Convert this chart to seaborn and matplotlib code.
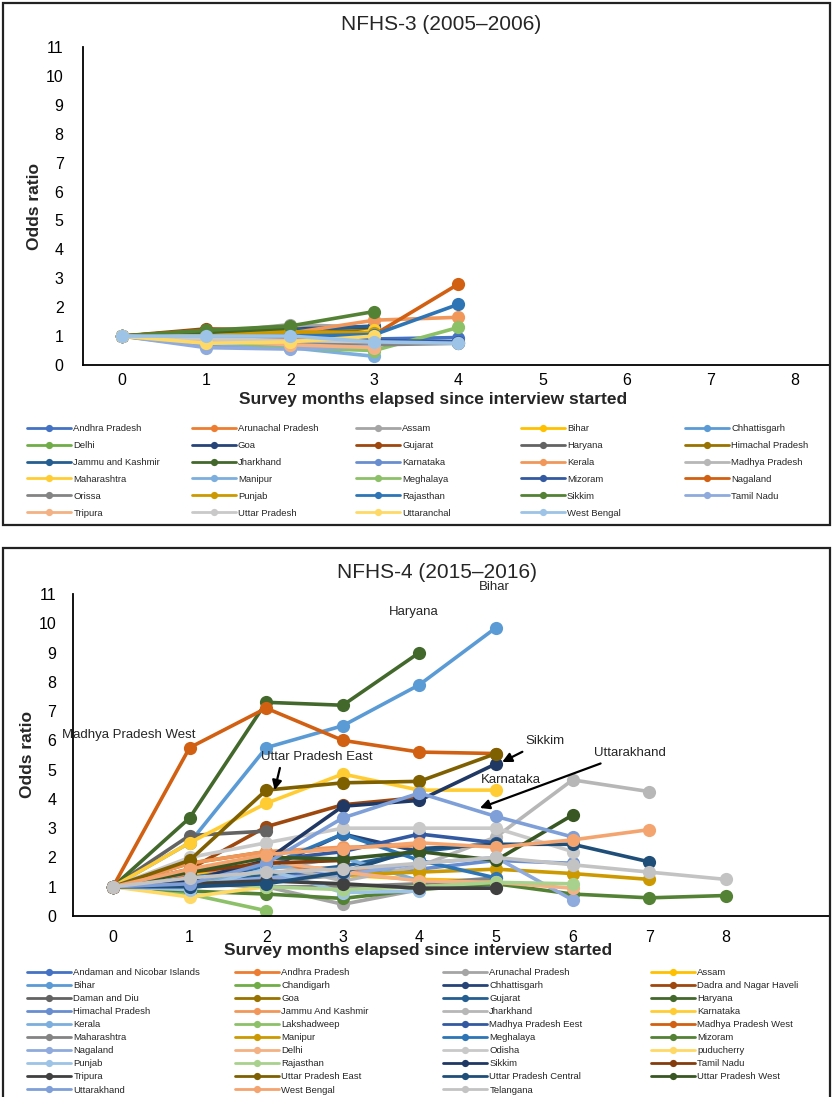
import numpy as np
import pandas as pd
import matplotlib
matplotlib.use("Agg")
import matplotlib.pyplot as plt
import seaborn as sns
from matplotlib.lines import Line2D
from matplotlib.patches import Rectangle

# ---------------- data ----------------
y_ticks = list(range(0, 12))
x_ticks = list(range(0, 9))

nfhs3_states = ["Andhra Pradesh", "Arunachal Pradesh", "Assam", "Bihar", "Chhattisgarh",
                "Delhi", "Goa", "Gujarat", "Haryana", "Himachal Pradesh",
                "Jammu and Kashmir", "Jharkhand", "Karnataka", "Kerala", "Madhya Pradesh",
                "Maharashtra", "Manipur", "Meghalaya", "Mizoram", "Nagaland",
                "Orissa", "Punjab", "Rajasthan", "Sikkim", "Tamil Nadu",
                "Tripura", "Uttar Pradesh", "Uttaranchal", "West Bengal"]
nfhs3_colors = ["#4472C4", "#ED7D31", "#A5A5A5", "#FFC000", "#5B9BD5",
                "#70AD47", "#264478", "#9E480E", "#636363", "#997300",
                "#255E91", "#43682B", "#698ED0", "#F1975A", "#B7B7B7",
                "#FFCD33", "#7CAFDD", "#8CC168", "#335AA1", "#D26012",
                "#848484", "#CC9A00", "#2E75B6", "#548235", "#8FAADC",
                "#F4B183", "#C9C9C9", "#FFD966", "#9DC3E6"]
nfhs3_values = [
    [1, 0.85, 0.80, 0.90, 0.95],
    [1, 0.90, 0.80, 0.70],
    [1, 1.10, 1.40, 1.30],
    [1, 0.95, 1.10, 1.10],
    [1, 0.70, 0.65, 0.80],
    [1, 0.80, 0.70, 0.55],
    [1, 1.20, 1.25, 1.30],
    [1, 1.25, 1.20],
    [1, 1.10, 1.30, 0.80, 0.75],
    [1, 1.20, 1.10, 1.20],
    [1, 1.00, 1.20, 1.35],
    [1, 1.10, 1.25],
    [1, 0.65, 0.60, 0.55],
    [1, 1.00, 1.10, 1.55, 1.65],
    [1, 0.90, 0.85, 0.75],
    [1, 0.80, 0.75, 1.20],
    [1, 0.75, 0.60, 0.30],
    [1, 0.85, 0.60, 0.50, 1.30],
    [1, 0.90, 1.00, 0.85, 0.80],
    [1, 0.95, 0.90, 1.05, 2.80],
    [1, 0.90, 0.80, 0.70, 0.75],
    [1, 1.00, 1.15, 1.10],
    [1, 0.95, 1.00, 1.05, 2.10],
    [1, 1.20, 1.35, 1.85],
    [1, 0.60, 0.55, 0.65],
    [1, 0.85, 0.70, 0.60],
    [1, 0.90, 0.85, 0.80],
    [1, 0.75, 0.80, 1.00],
    [1, 1.00, 1.00, 0.80, 0.75],
]

nfhs4_states = ["Andaman and Nicobar Islands", "Andhra Pradesh", "Arunachal Pradesh", "Assam",
                "Bihar", "Chandigarh", "Chhattisgarh", "Dadra and Nagar Haveli",
                "Daman and Diu", "Goa", "Gujarat", "Haryana",
                "Himachal Pradesh", "Jammu And Kashmir", "Jharkhand", "Karnataka",
                "Kerala", "Lakshadweep", "Madhya Pradesh Eest", "Madhya Pradesh West",
                "Maharashtra", "Manipur", "Meghalaya", "Mizoram",
                "Nagaland", "Delhi", "Odisha", "puducherry",
                "Punjab", "Rajasthan", "Sikkim", "Tamil Nadu",
                "Tripura", "Uttar Pradesh East", "Uttar Pradesh Central", "Uttar Pradesh West",
                "Uttarakhand", "West Bengal", "Telangana"]
nfhs4_colors = ["#4472C4", "#ED7D31", "#A5A5A5", "#FFC000",
                "#5B9BD5", "#70AD47", "#264478", "#9E480E",
                "#636363", "#997300", "#255E91", "#43682B",
                "#698ED0", "#F1975A", "#B7B7B7", "#FFCD33",
                "#7CAFDD", "#8CC168", "#335AA1", "#D26012",
                "#848484", "#CC9A00", "#2E75B6", "#548235",
                "#8FAADC", "#F4B183", "#C9C9C9", "#FFD966",
                "#9DC3E6", "#A9D18E", "#203864", "#843C0C",
                "#404040", "#7F6000", "#1F4E79", "#385723",
                "#7F9FD8", "#F4A46F", "#C3C3C3"]
nfhs4_values = [
    [1, 1.20, 1.50, 1.40],
    [1, 1.40, 1.70, 1.60, 1.50],
    [1, 1.30, 1.00, 0.40, 0.90],
    [1, 1.50, 1.20, 1.40, 1.25, 1.20],
    [1, 2.50, 5.75, 6.50, 7.90, 9.85],
    [1, 1.20, 1.40],
    [1, 1.30, 1.60, 2.80, 2.20],
    [1, 1.60, 3.05, 3.80, 4.05],
    [1, 2.75, 2.90],
    [1, 1.80, 2.20],
    [1, 1.00, 1.40, 1.70, 2.20, 2.50],
    [1, 3.35, 7.30, 7.20, 9.00],
    [1, 1.10, 1.20, 1.40, 1.60, 1.90, 1.80],
    [1, 1.80, 2.20, 2.35, 2.40],
    [1, 1.50, 1.80, 1.20, 1.70, 2.70, 4.65, 4.25],
    [1, 2.50, 3.85, 4.85, 4.30, 4.30],
    [1, 1.00, 1.60, 2.00, 1.20, 1.00],
    [1, 0.75, 0.18],
    [1, 1.20, 1.90, 2.20, 2.80, 2.50],
    [1, 5.75, 7.10, 6.00, 5.60, 5.55],
    [1, 1.10, 1.00, 1.00, 1.10, 1.30],
    [1, 1.00, 1.30, 1.40, 1.50, 1.60, 1.45, 1.25],
    [1, 1.30, 1.70, 2.80, 1.90, 1.30],
    [1, 0.85, 0.75, 0.60, 0.90, 1.10, 0.75, 0.62, 0.70],
    [1, 1.10, 1.30, 1.40, 1.80, 2.00, 0.55],
    [1, 1.50, 1.90, 1.50, 1.20, 1.15, 0.95],
    [1, 2.00, 2.50, 3.00, 3.00, 3.00, 2.20],
    [1, 0.65, 1.00],
    [1, 0.90, 1.60, 0.80, 0.85],
    [1, 1.20, 1.00, 0.90, 1.00, 1.15, 1.10],
    [1, 1.20, 1.90, 3.75, 3.95, 5.20],
    [1, 1.50, 1.80, 1.90],
    [1, 1.10, 1.20, 1.10, 0.95, 0.95],
    [1, 1.90, 4.30, 4.55, 4.60, 5.55],
    [1, 1.00, 1.10, 1.50, 2.30, 2.45, 2.45, 1.85],
    [1, 1.50, 2.00, 1.95, 2.20, 1.90, 3.45],
    [1, 1.10, 1.80, 3.35, 4.20, 3.40, 2.70],
    [1, 1.60, 2.10, 2.30, 2.50, 2.35, 2.60, 2.95],
    [1, 1.30, 1.50, 1.60, 1.80, 2.00, 1.75, 1.50, 1.25],
]

# ---------------- style ----------------
sns.set_style("white")
plt.rcParams["font.family"] = ["Liberation Sans", "DejaVu Sans"]

W, H = 832, 1097
fig = plt.figure(figsize=(W / 100, H / 100), dpi=100)


def fx(px):
    return px / W


def fy(py):
    return 1 - py / H


def long_df(states, values):
    rows = []
    for s, vals in zip(states, values):
        for m, v in enumerate(vals):
            rows.append({"state": s, "month": m, "odds": v})
    return pd.DataFrame(rows)


def draw_panel(ax, states, colors, values, xlim, ypad, xpad):
    df = long_df(states, values)
    sns.lineplot(data=df, x="month", y="odds", hue="state", hue_order=states,
                 palette=dict(zip(states, colors)), marker="o", markersize=9.5,
                 markeredgewidth=0, linewidth=2.6, legend=False, ax=ax,
                 sort=False, estimator=None)
    ax.set_xlim(*xlim)
    ax.set_ylim(0, 11)
    ax.set_xticks(x_ticks)
    ax.set_yticks(y_ticks)
    ax.tick_params(axis="both", length=0, labelsize=11.5, colors="black")
    ax.tick_params(axis="y", pad=ypad)
    ax.tick_params(axis="x", pad=xpad)
    for side in ["top", "right"]:
        ax.spines[side].set_visible(False)
    for side in ["left", "bottom"]:
        ax.spines[side].set_color("black")
        ax.spines[side].set_linewidth(1.3)
    ax.set_xlabel("Survey months elapsed since interview started",
                  fontsize=12.5, fontweight="bold")
    ax.set_ylabel("Odds ratio", fontsize=12.5, fontweight="bold")
    ax.grid(False)


def column_legends(states, colors, ncol, x0_px, col_w_px, ytop_px, fs, lspace):
    for c in range(ncol):
        idx = list(range(c, len(states), ncol))
        handles = [Line2D([], [], color=colors[i], marker="o", markersize=5.2,
                          markeredgewidth=0, lw=2.0) for i in idx]
        labels = [states[i] for i in idx]
        fig.legend(handles, labels, loc="upper left",
                   bbox_to_anchor=(fx(x0_px + c * col_w_px), fy(ytop_px)),
                   frameon=False, fontsize=fs, handlelength=4.7,
                   handletextpad=0.2, labelspacing=lspace,
                   borderpad=0, borderaxespad=0)


# ---------------- top panel ----------------
ax1 = fig.add_axes([fx(83), fy(365), fx(830) - fx(83), fy(47) - fy(365)])
x1lim = ((83 - 122) / 84.1, (830 - 122) / 84.1)
draw_panel(ax1, nfhs3_states, nfhs3_colors, nfhs3_values, x1lim, 14, 6)
ax1.xaxis.set_label_coords((433 - 83) / (830 - 83), -0.085)
ax1.yaxis.set_label_coords(-0.055, 0.5)
fig.text(fx(441), fy(24), "NFHS-3 (2005\u20132006)", ha="center", va="center", fontsize=15)
column_legends(nfhs3_states, nfhs3_colors, 5, 27, 164.5, 424, 6.8, 0.84)
fig.add_artist(Rectangle((fx(3), fy(525)), fx(830) - fx(3), fy(3) - fy(525),
                         transform=fig.transFigure, fill=False, lw=1.6, ec="#222222"))

# ---------------- bottom panel ----------------
ax2 = fig.add_axes([fx(73), fy(916), fx(830) - fx(73), fy(594) - fy(916)])
x2lim = ((73 - 113) / 76.6, (830 - 113) / 76.6)
draw_panel(ax2, nfhs4_states, nfhs4_colors, nfhs4_values, x2lim, 12, 10)
ax2.xaxis.set_label_coords((418 - 73) / (830 - 73), -0.085)
ax2.yaxis.set_label_coords(-0.050, 0.5)
fig.text(fx(437), fy(572), "NFHS-4 (2015\u20132016)", ha="center", va="center", fontsize=15)
column_legends(nfhs4_states, nfhs4_colors, 4, 27, 208, 968, 6.8, 0.43)
fig.add_artist(Rectangle((fx(3), fy(1104)), fx(830) - fx(3), fy(548) - fy(1104),
                         transform=fig.transFigure, fill=False, lw=1.6, ec="#222222",
                         clip_on=False))

# annotations
ann_fs = 9.5
ax2.text(4.98, 11.25, "Bihar", ha="center", va="center", fontsize=ann_fs, clip_on=False)
ax2.text(3.93, 10.4, "Haryana", ha="center", va="center", fontsize=ann_fs)
ax2.text(0.2, 6.18, "Madhya Pradesh West", ha="center", va="center", fontsize=ann_fs)
ax2.annotate("Uttar Pradesh East", xy=(2.11, 4.3), xytext=(2.66, 5.42),
             ha="center", va="center", fontsize=ann_fs,
             arrowprops=dict(arrowstyle="-|>", color="black", lw=1.6,
                             shrinkA=1, shrinkB=0, mutation_scale=14,
                             relpos=(0.18, 0.0)))
ax2.annotate("Sikkim", xy=(5.08, 5.26), xytext=(5.64, 5.97),
             ha="center", va="center", fontsize=ann_fs,
             arrowprops=dict(arrowstyle="-|>", color="black", lw=1.6,
                             shrinkA=2, shrinkB=0, mutation_scale=14,
                             relpos=(0.15, 0.0)))
ax2.annotate("Uttarakhand", xy=(4.79, 3.69), xytext=(6.75, 5.56),
             ha="center", va="center", fontsize=ann_fs,
             arrowprops=dict(arrowstyle="-|>", color="black", lw=1.6,
                             shrinkA=2, shrinkB=0, mutation_scale=14,
                             relpos=(0.25, 0.0)))
ax2.text(5.2, 4.64, "Karnataka", ha="center", va="center", fontsize=ann_fs)

fig.savefig("out.png", dpi=100)
